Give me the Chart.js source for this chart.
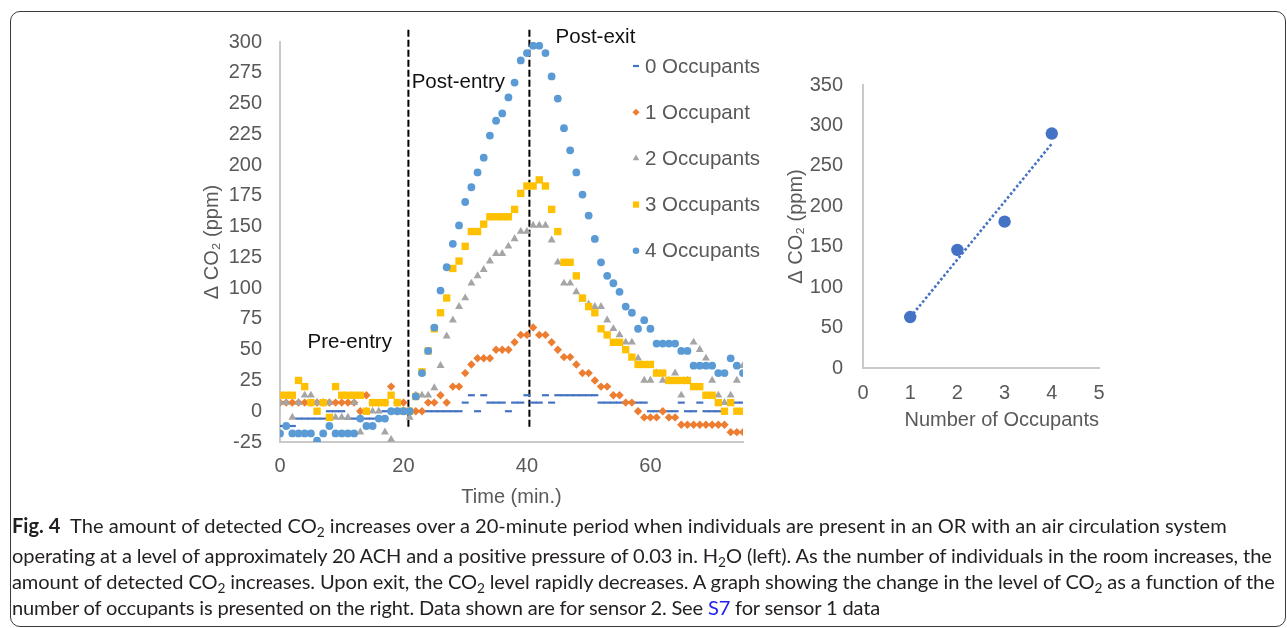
<!DOCTYPE html>
<html>
<head>
<meta charset="utf-8">
<script src="https://cdn.jsdelivr.net/npm/chart.js@4.4.1/dist/chart.umd.min.js"></script>
<style>
  html, body { margin: 0; padding: 0; background: #fff; }
  body { width: 1287px; height: 628px; position: relative; overflow: hidden; }
  #frame { position: absolute; left: 10px; top: 11px; width: 1276px; height: 616px;
           border: 1px solid #3a3a3a; border-radius: 10px; box-sizing: border-box; }
  #left { position: absolute; left: 0; top: 0; }
  #right { position: absolute; left: 780px; top: 0; }
  .cap { position: absolute; left: 12px; white-space: nowrap; font-family: Lato, 'Open Sans', sans-serif;
         font-size: 17px; line-height: 22px; color: #231f20; }
  .cap sub { font-size: 0.68em; vertical-align: -0.3em; line-height: 0; }
  .cap .lnk { color: #2222ee; }
</style>
</head>
<body>
<div id="frame"></div>
<canvas id="left" width="780" height="520"></canvas>
<canvas id="right" width="360" height="460"></canvas>

<div class="cap" style="top:514px"><b>Fig. 4</b>&nbsp; The amount of detected CO<sub>2</sub> increases over a 20-minute period when individuals are present in an OR with an air circulation system</div>
<div class="cap" style="top:544px">operating at a level of approximately 20 ACH and a positive pressure of 0.03 in. H<sub>2</sub>O (left). As the number of individuals in the room increases, the</div>
<div class="cap" style="top:570px">amount of detected CO<sub>2</sub> increases. Upon exit, the CO<sub>2</sub> level rapidly decreases. A graph showing the change in the level of CO<sub>2</sub> as a function of the</div>
<div class="cap" style="top:596px">number of occupants is presented on the right. Data shown are for sensor 2. See <span class="lnk">S7</span> for sensor 1 data</div>

<script>
'use strict';

// 時間 (分)
var minutes = [];
for (var i = 0; i <= 75; i++) minutes.push(i);

// ΔCO2 (ppm) 各人数
var occ0 = [-12, -12, -12, -6, -6, -6, -6, -6, 0, 0,
  0, -6, -6, -6, -6, -6, -6, 0, 0, 0,
  0, 0, 0, 0, 0, 0, 0, 0, 0, 0,
  7, 13, 0, 13, 7, 7, 7, 0, 7, 7,
  13, 7, 7, 13, 7, 13, 13, 13, 13, 13,
  13, 13, 7, 7, 7, 7, 7, 7, 7, 7,
  0, 0, 0, 0, 0, 7, 0, 0, 7, 0,
  0, 0, 0, 7, 7, 7];
var occ1 = [7, 7, 7, 7, 7, 7, 7, 7, 7, 7,
  7, 7, 7, 0, 13, 7, 7, 7, 20, 7,
  7, 0, 0, 0, 7, 7, 13, 7, 20, 20,
  31, 38, 43, 43, 43, 50, 50, 50, 56, 62,
  62, 68, 62, 62, 56, 50, 44, 44, 38, 31,
  31, 25, 20, 20, 13, 13, 7, 7, 0, -5,
  -5, -5, 0, -5, -5, -11, -11, -11, -11, -11,
  -11, -11, -11, -17, -17, -17];
var occ2 = [7, 7, -5, 7, 13, 13, 7, 7, 7, -5,
  -5, -5, 7, -17, 0, 0, 0, -17, -23, 0,
  0, -5, 13, 13, 13, 19, 37, 61, 74, 85,
  92, 104, 110, 115, 122, 128, 128, 134, 140, 146,
  146, 151, 151, 151, 139, 121, 104, 104, 97, 91,
  87, 85, 85, 74, 67, 62, 56, 56, 43, 25,
  25, 31, 25, 25, 31, 13, 25, 56, 50, 43,
  25, 13, 7, 13, 25, 37];
var occ3 = [13, 13, 13, 25, 20, 7, 0, 7, -5, 20,
  13, 13, 13, 13, 0, 7, 7, 7, 13, 7,
  0, 0, 12, 32, 49, 67, 80, 92, 116, 122,
  134, 146, 146, 152, 158, 158, 158, 158, 164, 177,
  183, 183, 188, 183, 164, 146, 121, 121, 110, 92,
  85, 80, 67, 62, 56, 56, 50, 44, 38, 38,
  38, 31, 31, 25, 25, 25, 25, 20, 20, 13,
  13, 7, 0, 7, 0, 0];
var occ4 = [-18, -12, -18, -18, -18, -18, -24, -18, -12, -18,
  -18, -18, -18, -6, -12, -12, -6, -6, 0, 0,
  0, 0, 12, 31, 49, 68, 98, 117, 136, 151,
  170, 182, 194, 206, 224, 236, 242, 255, 267, 285,
  291, 297, 297, 291, 272, 254, 230, 212, 194, 176,
  159, 140, 121, 110, 104, 97, 85, 80, 67, 74,
  67, 55, 55, 55, 55, 49, 49, 37, 37, 37,
  37, 31, 31, 43, 37, 31];

var seriesNames = ['0 Occupants', '1 Occupant', '2 Occupants', '3 Occupants', '4 Occupants'];
var seriesData = [occ0, occ1, occ2, occ3, occ4];

// 入室・退室の時刻と区切り線の範囲
var phaseTimes = [20.8, 40.4];
var phaseSpan = [-15, 310];

// 目盛り
var timeTicks = [0, 20, 40, 60];
var co2Ticks = [-25, 0, 25, 50, 75, 100, 125, 150, 175, 200, 225, 250, 275, 300];

// 右のグラフ: 人数とΔCO2
var occupantCounts = [1, 2, 3, 4];
var peakCO2 = [63, 146, 181, 290];
var occTicks = [0, 1, 2, 3, 4, 5];
var peakTicks = [0, 50, 100, 150, 200, 250, 300, 350];

// 見た目
var FONT = "'Liberation Sans', Arial, sans-serif";
var TICK_COLOR = '#595959';
var AXIS_COLOR = '#c9c9c9';
var colors = ['#4472C4', '#ED7D31', '#A5A5A5', '#FFC000', '#5B9BD5'];
var styles = ['line', 'rectRot', 'triangle', 'rect', 'circle'];
var radii = [3.5, 4.2, 4.6, 5.2, 3.9];

Chart.defaults.font.family = FONT;

function fixTicks(list) {
  return function (scale) {
    scale.ticks = list.map(function (v) { return { value: v }; });
  };
}

var datasets = seriesData.map(function (vals, k) {
  return {
    label: seriesNames[k],
    data: vals.map(function (v, i) { return { x: minutes[i], y: v }; }),
    pointStyle: styles[k],
    pointRadius: radii[k],
    backgroundColor: colors[k],
    borderColor: colors[k],
    pointBorderWidth: k === 0 ? 2.2 : 0,
    showLine: false,
    order: 5 - k
  };
});

phaseTimes.forEach(function (t) {
  datasets.push({
    label: 'phase',
    data: [{ x: t, y: phaseSpan[1] }, { x: t, y: phaseSpan[0] }],
    showLine: true,
    pointRadius: 0,
    borderColor: '#000',
    borderWidth: 2,
    borderDash: [7, 3],
    clip: false,
    order: 10
  });
});

// 凡例 (グラフ内に描画)
var sideLegend = {
  id: 'sideLegend',
  afterDraw: function (chart) {
    var ctx = chart.ctx;
    ctx.save();
    ctx.font = '20.5px ' + FONT;
    ctx.textBaseline = 'middle';
    ctx.textAlign = 'left';
    seriesNames.forEach(function (name, k) {
      var y = 66 + k * 46.2;
      ctx.fillStyle = colors[k];
      ctx.strokeStyle = colors[k];
      ctx.lineWidth = 2.2;
      Chart.helpers.drawPoint(ctx, {
        pointStyle: styles[k], radius: k === 0 ? 3 : radii[k] * 0.85,
        rotation: 0, borderWidth: k === 0 ? 2.2 : 0
      }, 636, y);
      ctx.fillStyle = TICK_COLOR;
      ctx.fillText(name, 645, y + 1);
    });
    ctx.restore();
  }
};

// Pre-entry などの文字
var phaseLabels = [
  { text: 'Pre-entry', x: 11.3, y: 56 },
  { text: 'Post-entry', x: 28.9, y: 267 },
  { text: 'Post-exit', x: 51.1, y: 304 }
];
var phaseText = {
  id: 'phaseText',
  afterDraw: function (chart) {
    var ctx = chart.ctx;
    var sx = chart.scales.x, sy = chart.scales.y;
    ctx.save();
    ctx.font = '20.5px ' + FONT;
    ctx.fillStyle = '#111';
    ctx.textAlign = 'center';
    ctx.textBaseline = 'middle';
    phaseLabels.forEach(function (p) {
      ctx.fillText(p.text, sx.getPixelForValue(p.x), sy.getPixelForValue(p.y));
    });
    ctx.restore();
  }
};

new Chart(document.getElementById('left'), {
  type: 'scatter',
  data: { datasets: datasets },
  plugins: [sideLegend, phaseText],
  options: {
    responsive: false,
    animation: false,
    events: [],
    layout: { padding: { left: 190, top: 42, right: 37, bottom: 0 } },
    plugins: { legend: { display: false }, tooltip: { enabled: false } },
    scales: {
      x: {
        type: 'linear',
        min: minutes[0],
        max: minutes[minutes.length - 1],
        afterBuildTicks: fixTicks(timeTicks),
        afterFit: function (s) { s.height = 78; },
        grid: { display: false, drawTicks: false },
        border: { display: true, color: AXIS_COLOR, width: 2 },
        ticks: { color: TICK_COLOR, font: { size: 20 }, padding: 12, maxRotation: 0 },
        title: { display: true, text: 'Time (min.)', color: TICK_COLOR, font: { size: 20 },
                 padding: { top: 0, bottom: 11 } }
      },
      y: {
        min: co2Ticks[0],
        max: co2Ticks[co2Ticks.length - 1],
        afterBuildTicks: fixTicks(co2Ticks),
        afterFit: function (s) { s.width = 90; },
        grid: { display: false, drawTicks: false },
        border: { display: true, color: AXIS_COLOR, width: 2 },
        ticks: { color: TICK_COLOR, font: { size: 20 }, padding: 18 },
        title: { display: true, text: 'Δ CO₂ (ppm)', color: TICK_COLOR, font: { size: 20 },
                 padding: { top: 10, bottom: 0 } }
      }
    }
  }
});

// 線形近似 (最小二乗)
var n = occupantCounts.length;
var mx = occupantCounts.reduce(function (a, b) { return a + b; }, 0) / n;
var my = peakCO2.reduce(function (a, b) { return a + b; }, 0) / n;
var sxy = 0, sxx = 0;
for (var j = 0; j < n; j++) {
  sxy += (occupantCounts[j] - mx) * (peakCO2[j] - my);
  sxx += (occupantCounts[j] - mx) * (occupantCounts[j] - mx);
}
var slope = sxy / sxx;
var icpt = my - slope * mx;
var trend = [occupantCounts[0], occupantCounts[n - 1]].map(function (x) {
  return { x: x, y: icpt + slope * x };
});

new Chart(document.getElementById('right'), {
  type: 'scatter',
  data: {
    datasets: [{
      data: occupantCounts.map(function (x, i) { return { x: x, y: peakCO2[i] }; }),
      pointRadius: 6.2,
      backgroundColor: '#4472C4',
      borderWidth: 0,
      order: 1
    }, {
      data: trend,
      showLine: true,
      pointRadius: 0,
      borderColor: '#4472C4',
      borderWidth: 2.6,
      borderDash: [2.6, 2.2],
      order: 2
    }]
  },
  options: {
    responsive: false,
    animation: false,
    events: [],
    layout: { padding: { left: 0, top: 85, right: 41, bottom: 0 } },
    plugins: { legend: { display: false }, tooltip: { enabled: false } },
    scales: {
      x: {
        type: 'linear',
        min: occTicks[0],
        max: occTicks[occTicks.length - 1],
        afterBuildTicks: fixTicks(occTicks),
        afterFit: function (s) { s.height = 92; },
        grid: { display: false, drawTicks: false },
        border: { display: true, color: AXIS_COLOR, width: 2 },
        ticks: { color: TICK_COLOR, font: { size: 20 }, padding: 13, maxRotation: 0 },
        title: { display: true, text: 'Number of Occupants', color: TICK_COLOR, font: { size: 20 },
                 align: 'end', padding: { top: 0, bottom: 28 } }
      },
      y: {
        min: peakTicks[0],
        max: peakTicks[peakTicks.length - 1],
        afterBuildTicks: fixTicks(peakTicks),
        afterFit: function (s) { s.width = 83; },
        grid: { display: false, drawTicks: false },
        border: { display: true, color: AXIS_COLOR, width: 2 },
        ticks: { color: TICK_COLOR, font: { size: 20 }, padding: 20 },
        title: { display: true, text: 'Δ CO₂ (ppm)', color: TICK_COLOR, font: { size: 20 },
                 padding: { top: 4, bottom: 0 } }
      }
    }
  }
});

// キャプションの行幅を合わせる (文字サイズを1行目に合わせ、残りは字間で調整)
var capTargets = [1215, 1260, 1263, 868];
var caps = document.querySelectorAll('.cap');
var w0 = caps[0].getBoundingClientRect().width;
var capSize = 17 * capTargets[0] / w0;
caps.forEach(function (el, k) {
  el.style.fontSize = capSize + 'px';
  var w = el.getBoundingClientRect().width;
  el.style.letterSpacing = ((capTargets[k] - w) / el.textContent.length) + 'px';
});
</script>
</body>
</html>
